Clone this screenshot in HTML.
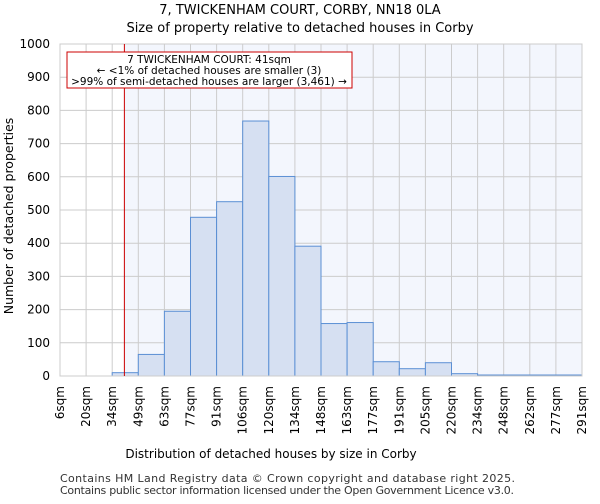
<!DOCTYPE html>
<html><head><meta charset="utf-8"><style>
body{margin:0;background:#fff;font-family:"DejaVu Sans","Liberation Sans",sans-serif;}
</style></head><body>
<svg id="chart" width="600" height="500" xmlns="http://www.w3.org/2000/svg" font-family="DejaVu Sans, Liberation Sans, sans-serif">
<text x="300" y="14" text-anchor="middle" font-size="13">7, TWICKENHAM COURT, CORBY, NN18 0LA</text>
<text x="300" y="32" text-anchor="middle" font-size="13">Size of property relative to detached houses in Corby</text>
<g id="plot"></g>
<text x="271" y="458" text-anchor="middle" font-size="12">Distribution of detached houses by size in Corby</text>
<text transform="translate(13,216) rotate(-90)" text-anchor="middle" font-size="12.5">Number of detached properties</text>
<text x="60" y="482" font-size="11" fill="#333" textLength="455">Contains HM Land Registry data © Crown copyright and database right 2025.</text>
<text x="60" y="494" font-size="11" fill="#333" textLength="454">Contains public sector information licensed under the Open Government Licence v3.0.</text>
</svg>
<script>
const categories=["6sqm","20sqm","34sqm","49sqm","63sqm","77sqm","91sqm","106sqm","120sqm","134sqm","148sqm","163sqm","177sqm","191sqm","205sqm","220sqm","234sqm","248sqm","262sqm","277sqm","291sqm"];
const counts=[0,0,10,65,195,478,525,768,601,391,158,161,43,22,40,7,3,3,3,3];
const yTicks=[0,100,200,300,400,500,600,700,800,900,1000];
const markerBin=2+7/15;
const NS="http://www.w3.org/2000/svg";
const X0=60,X1=582,Y0=376,Y1=44;
const nb=categories.length-1;
const xs=i=>X0+(X1-X0)*i/nb;
const ys=v=>Y0-(Y0-Y1)*v/1000;
const g=document.getElementById('plot');
function mk(t,a,p){const e=document.createElementNS(NS,t);for(const k in a)e.setAttribute(k,a[k]);(p||g).appendChild(e);return e;}
const mx=xs(markerBin);
let bg=mk('rect',{x:mx,y:Y1,width:X1-mx,height:Y0-Y1,fill:'#f3f6fd'});


yTicks.forEach(v=>{
 let l=mk('line',{x1:X0,x2:X1,y1:ys(v),y2:ys(v),stroke:'#cccccc'});
 
 
 let t=mk('text',{x:X0-10,y:ys(v)+4,'text-anchor':'end','font-size':'12'});
 t.textContent=v;
 
 
});
categories.forEach((c,i)=>{
 let l=mk('line',{x1:xs(i),x2:xs(i),y1:Y1,y2:Y0,stroke:'#cccccc'});
 
 
 let t=mk('text',{transform:`translate(${xs(i)+4},386) rotate(-90)`,'text-anchor':'end','font-size':'12'});
 t.textContent=c;
 
 
});
counts.forEach((v,i)=>{
 let r=mk('rect',{x:xs(i),y:ys(v),width:xs(i+1)-xs(i),height:Y0-ys(v),fill:'#d6e0f2',stroke:'#5b8fd4','stroke-width':1});
 
 
});
let ax=mk('rect',{x:X0,y:Y1,width:X1-X0,height:Y0-Y1,fill:'none',stroke:'#cccccc'});


let ml=mk('line',{x1:mx,x2:mx,y1:Y1,y2:Y0,stroke:'#cc0000','stroke-width':1});


let box=mk('rect',{x:67,y:52,width:285,height:36,fill:'#fff',stroke:'#cc0000'});


["7 TWICKENHAM COURT: 41sqm","← <1% of detached houses are smaller (3)",">99% of semi-detached houses are larger (3,461) →"].forEach((s,i)=>{
 let t=mk('text',{x:209,y:63+i*11,'text-anchor':'middle','font-size':'10.5'});
 t.textContent=s;
 
 
});
</script>
</body></html>
